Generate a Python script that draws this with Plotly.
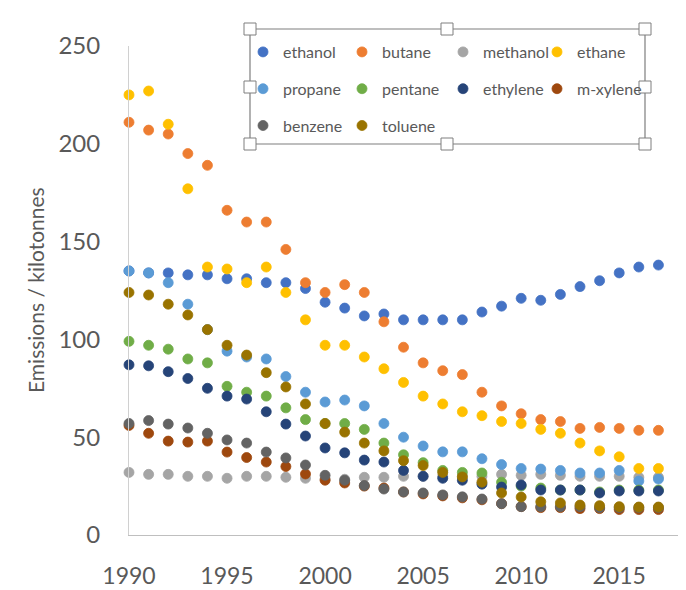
import plotly.graph_objects as go

years = list(range(1990, 2018))

ethanol = [135, 134, 134, 133, 133, 131, 131, 129, 129, 126, 119, 116, 112, 113, 110, 110, 110, 110, 114, 117, 121, 120, 123, 127, 130, 134, 137, 138]
butane = [211, 207, 205, 195, 189, 166, 160, 160, 146, 129, 124, 128, 124, 109, 96, 88, 84, 82, 73, 66, 62, 59, 58, 54.5, 55, 54.5, 53.5, 53.5]
methanol = [32, 31, 31, 30, 30, 29, 30, 30, 29.5, 29, 28.5, 28.5, 29.5, 29.5, 30, 30, 30, 30, 30, 31, 30.5, 31, 30.5, 30, 30, 30, 29.5, 29.5]
ethane = [225, 227, 210, 177, 137, 136, 129, 137, 124, 110, 97, 97, 91, 85, 78, 71, 67, 63, 61, 58, 57, 54, 52, 47, 43, 40, 34, 34]
propane = [135, 134, 129, 118, 105, 94, 91, 90, 81, 73, 68, 69, 66, 57, 50, 45.5, 42.5, 42.5, 39, 36, 34, 33.7, 33, 31.7, 31.7, 33, 27.6, 28.6]
pentane = [99, 97, 95, 90, 88, 76, 73, 71, 65, 59, 57, 57, 54, 47, 41, 37, 33, 32, 31.7, 27, 25, 24, 23, 23, 22, 23, 23, 23]
ethylene = [87, 86.5, 83.5, 80, 75, 71, 69.5, 63, 56.7, 50.6, 44.5, 42, 38.3, 37.3, 33, 30, 29, 28, 26, 24.5, 25.6, 23, 23, 23, 21.5, 22.5, 22.5, 22.5]
m_xylene = [56, 52, 48, 47.5, 48, 42.4, 39.6, 37.3, 35, 31.2, 28, 26.6, 25, 24, 22, 21, 20, 19, 18, 16, 14.5, 14, 14, 13.5, 13.5, 13, 13, 13]
benzene = [57, 58.5, 56.7, 54.7, 52, 48.6, 47, 42.4, 39.4, 35.8, 30.5, 28, 25.3, 23.5, 22, 21.5, 20.5, 19.5, 18.4, 16, 14.5, 14.5, 14.5, 14.5, 14, 14, 14, 14]
toluene = [124, 122.7, 118, 112.5, 105, 97, 92, 83, 75.7, 67, 57, 52.6, 47, 43, 38, 35.5, 32, 29.7, 27, 21.5, 19.4, 17, 16.4, 15.3, 15, 14.5, 14.3, 14.3]

names = ["ethanol", "butane", "methanol", "ethane", "propane", "pentane",
         "ethylene", "m-xylene", "benzene", "toluene"]
values = [ethanol, butane, methanol, ethane, propane, pentane,
          ethylene, m_xylene, benzene, toluene]
colors = ["#4472C4", "#ED7D31", "#A5A5A5", "#FFC000", "#5B9BD5", "#70AD47",
          "#264478", "#9E480E", "#636363", "#997300"]
legend_ids = ["legend", "legend2", "legend3", "legend4",
              "legend", "legend2", "legend3", "legend4",
              "legend", "legend2"]

OFF = 8  # page body margin
W, H = 686 - OFF, 590 - OFF
# plot area in screen pixels: x 129..680, y 46..535
SL, SR, ST, SB = 129, 680, 46, 535
L, T = SL - OFF, ST - OFF
R = W - (SR - OFF)
B = H - (SB - OFF)
PW, PH = W - L - R, H - T - B

def px(sx):
    return (sx - OFF - L) / PW

def py(sy):
    return (H - B - (sy - OFF)) / PH

fig = go.Figure()
for n, v, c, lg in zip(names, values, colors, legend_ids):
    fig.add_trace(go.Scatter(
        x=years, y=v, mode="markers", name=n, legend=lg, legendgroup=n,
        marker=dict(size=10, color=c, line=dict(width=0.8, color=c)),
        cliponaxis=False,
    ))

font_fam = "Lato, 'Open Sans', sans-serif"
txt = "#595959"

shapes = []
shapes.append(dict(type="rect", xref="paper", yref="paper",
                   x0=px(250), x1=px(645), y0=py(144), y1=py(29),
                   line=dict(color="#7F7F7F", width=1.2), fillcolor="rgba(0,0,0,0)", layer="below"))
hs = 6
for hx, hy in [(250, 29), (447, 29), (645, 29), (250, 87), (645, 87), (250, 144), (447, 144), (645, 144)]:
    shapes.append(dict(type="rect", xref="paper", yref="paper",
                       x0=px(hx - hs), x1=px(hx + hs), y0=py(hy + hs), y1=py(hy - hs),
                       line=dict(color="#7F7F7F", width=1), fillcolor="white", layer="above"))

leg_common = dict(orientation="v", xanchor="left", yanchor="top",
                  font=dict(size=16, color=txt, family=font_fam),
                  bgcolor="rgba(0,0,0,0)", tracegroupgap=13, itemwidth=30)
col_x = [263, 362, 463, 557]
leg_top = 35

fig.update_layout(
    width=W, height=H,
    margin=dict(l=L, r=R, t=T, b=B, autoexpand=False),
    paper_bgcolor="white", plot_bgcolor="white",
    font=dict(family=font_fam, color=txt),
    showlegend=True,
    legend=dict(x=px(col_x[0] - 20), y=py(leg_top), **leg_common),
    legend2=dict(x=px(col_x[1] - 20), y=py(leg_top), **leg_common),
    legend3=dict(x=px(col_x[2] - 20), y=py(leg_top), **leg_common),
    legend4=dict(x=px(col_x[3] - 20), y=py(leg_top), **leg_common),
    xaxis=dict(
        range=[1990, 2018.1], tickvals=[1990, 1995, 2000, 2005, 2010, 2015],
        showgrid=False, zeroline=False, showline=True, linecolor="#BFBFBF", linewidth=1,
        ticks="", tickfont=dict(size=23, color=txt), ticklabelstandoff=20, automargin=False,
    ),
    yaxis=dict(
        range=[0, 250], tickvals=[0, 50, 100, 150, 200, 250],
        showgrid=False, zeroline=False, showline=True, linecolor="#D0D0D0", linewidth=1,
        ticks="", tickfont=dict(size=24, color=txt), ticklabelstandoff=23, automargin=False,
    ),
    annotations=[dict(text="Emissions / kilotonnes", textangle=-90, showarrow=False,
                      xref="paper", yref="paper", x=px(35), y=py(290),
                      xanchor="center", yanchor="middle",
                      font=dict(size=21, color=txt, family=font_fam))],
    shapes=shapes,
)

fig.write_html("out.html")
